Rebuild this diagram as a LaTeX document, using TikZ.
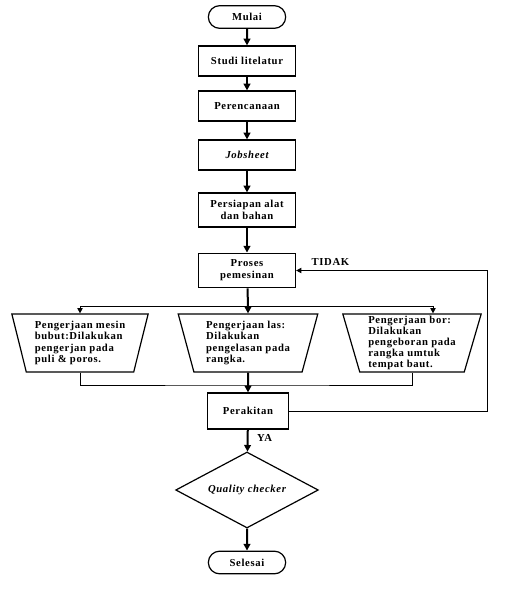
\documentclass[tikz,border=0pt]{standalone}
\usepackage{fontspec}
\setmainfont[LetterSpace=6]{Liberation Serif}
\usetikzlibrary{shapes.geometric,shapes.misc,arrows.meta}
\newcommand{\scale}{0.75}

\begin{document}
\begin{tikzpicture}[x=\scale pt, y=-\scale pt,
  font=\fontsize{8}{9}\selectfont\bfseries,
  term/.style={draw, line width=0.9pt, rounded rectangle, minimum width=60pt, minimum height=17pt, inner sep=1pt},
  proc/.style={draw, line width=0.9pt, align=center, minimum width=72.75pt, minimum height=22.5pt, inner sep=1pt},
  work/.style={draw, line width=0.9pt, trapezium, trapezium left angle=105, trapezium right angle=105, trapezium stretches=true, minimum width=103pt, minimum height=43.5pt, align=left, inner sep=1pt, font=\fontsize{8}{8.6}\selectfont\bfseries},
  check/.style={draw, line width=0.9pt, diamond, aspect=1.9, minimum width=107pt, minimum height=57pt, inner sep=1pt},
  flow/.style={line width=1.5pt, -{Triangle[length=5pt,width=5pt]}},
  thin/.style={line width=0.75pt},
  tip/.style={-{Triangle[length=4pt,width=4pt]}}
]
\useasboundingbox (0,0) rectangle (506,596);

\node[term] (v1) at (247,17) {Mulai};
\node[proc] (v2) at (247,61) {Studi litelatur};
\node[proc] (v3) at (247,106) {Perencanaan};
\node[proc] (v4) at (247,155) {\itshape Jobsheet};
\node[proc, minimum height=25.5pt] (v5) at (247,210) {Persiapan alat\\dan bahan};
\node[proc, minimum height=26pt] (v6) at (247,270.5) {Proses\\pemesinan};

\node[work] (v7) at (80,343) {Pengerjaan mesin\\bubut:Dilakukan\\pengerjan pada\\puli \& poros.};
\node[work, minimum width=105pt] (v8) at (248,343) {Pengerjaan las:\\Dilakukan\\pengelasan pada\\rangka.};
\node[work, minimum width=104pt, inner sep=0pt, font=\fontsize{8}{8.1}\selectfont\bfseries] (v9) at (412,343) {Pengerjaan bor:\\Dilakukan\\pengeboran pada\\rangka umtuk\\tempat baut.};

\node[proc, minimum width=61pt, minimum height=27pt] (v10) at (248,411) {Perakitan};
\node[check] (v11) at (247,490) {\itshape Quality checker};
\node[term] (v12) at (247,562.5) {Selesai};

\coordinate (b) at (248,306);
\coordinate (b3) at (433,306);
\coordinate (j) at (248,385);
\coordinate (f) at (487,411);

\draw[flow] (v1) -- (v2);
\draw[flow] (v2) -- (v3);
\draw[flow] (v3) -- (v4);
\draw[flow] (v4) -- (v5);
\draw[flow] (v5) -- (v6);
\draw[line width=1.5pt] (v6) -- (b);
\draw[flow] (b) -- (b |- v8.north);
\draw[thin, tip] (b) -| (v7.north);
\draw[thin, tip] (b) -- (b3) -- (b3 |- v9.north);
\draw[thin] (v7.south) |- (j) -| (v9.south);
\draw[flow] (v8) -- (v10);
\draw[thin, tip] (v10.east) -- (f) |- (v6.east) node[pos=0.91, above] {TIDAK};
\draw[flow] (v10) -- (v11) node[pos=0.4, right, xshift=3pt] {YA};
\draw[flow] (v11) -- (v12);
\end{tikzpicture}
\end{document}
